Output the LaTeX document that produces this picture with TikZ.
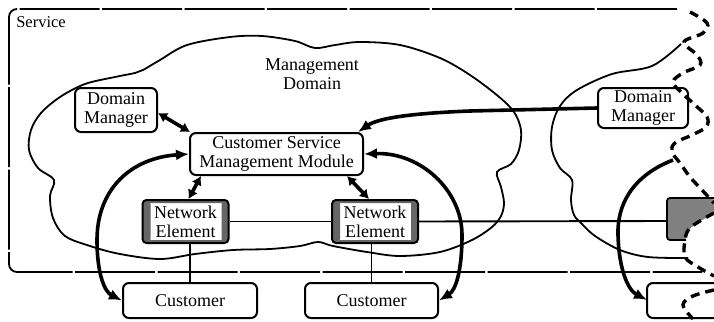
\documentclass[tikz,border=0pt]{standalone}
\usepackage{fontspec}
\setmainfont{Liberation Serif}
\usetikzlibrary{arrows.meta}
\begin{document}
\begin{tikzpicture}[x=1pt,y=-1pt,
  >={Latex[length=13pt,width=11pt]},
  box/.style={draw, line width=2pt, rounded corners=6pt, fill=white,
    align=center, inner sep=0pt, font=\fontsize{18}{19}\selectfont},
  nebox/.style={box, rounded corners=4pt, minimum width=86pt, minimum height=43pt,
    path picture={
      \fill[black!60] (path picture bounding box.south west) rectangle ([xshift=8pt]path picture bounding box.north west);
      \fill[black!60] (path picture bounding box.south east) rectangle ([xshift=-7pt]path picture bounding box.north east);
      \fill[black!60] (path picture bounding box.north west) rectangle ([yshift=-3pt]path picture bounding box.north east);
      \fill[black!60] (path picture bounding box.south west) rectangle ([yshift=3pt]path picture bounding box.south east);}},
  cloudline/.style={line width=1.8pt},
  link/.style={line width=1.9pt},
  heavy/.style={line width=3.6pt},
  shortboth/.style={line width=3.6pt, {Latex[length=9pt,width=11pt]}-{Latex[length=9pt,width=11pt]}},
  cutline/.style={line width=3.4pt, dash pattern=on 9pt off 6pt},
  label/.style={align=center, inner sep=0pt, font=\fontsize{18}{19}\selectfont}
]
\useasboundingbox (0,0) rectangle (714,321);

% service boundary
\draw[line width=1.8pt, rounded corners=8pt, dash pattern=on 80pt off 2.5pt]
  (677,9) -- (9,9) -- (9,272) -- (702,272);
\node[inner sep=0pt, font=\fontsize{16.5}{18}\selectfont] (service) at (41,22) {Service};

% management domain cloud
\draw[cloudline] plot[smooth cycle, tension=0.55] coordinates {
  (143,70) (160,60) (187,45) (230,37) (262,36) (295,41) (315,48) (335,45)
  (360,42) (400,45) (440,58) (470,75) (498,96) (514,112) (521,130) (519,150)
  (511,164) (497,172) (501,187) (504,203) (501,216) (492,227) (472,240)
  (440,252) (400,256) (367,252) (333,246) (318,242) (300,246) (270,249)
  (233,250) (195,254) (160,259) (120,254) (90,246) (65,236) (53,218)
  (50,196) (54,180) (38,168) (29,150) (31,130) (41,113) (60,97) (85,84)
  (115,77) (135,73)};
\node[label] (mdom) at (312,74) {Management\\Domain};

% neighbouring domain cloud
\draw[cloudline] plot[smooth, tension=0.55] coordinates {
  (681,44) (652,66) (612,74) (577,90) (560,106) (552,127) (552,150) (560,168)
  (572,180) (571,200) (574,215) (582,224) (595,236) (620,250) (648,257) (688,258)};

% partly visible boxes at the cut
\fill[black!50, rounded corners=3pt]
  (714,198) -- (667,198) -- (667,240) -- (686,240) -- (689,229) -- (700,221) -- (714,214) -- cycle;
\draw[line width=1.8pt, rounded corners=3pt] (714,198) -- (667,198) -- (667,240) -- (686,240);
\draw[line width=2pt, rounded corners=6pt] (714,283) -- (647,283) -- (647,318) -- (714,318);
\coordinate (ne3) at (667,221);
\coordinate (cu3) at (647,300);
\coordinate (cutstart) at (673,160);

% nodes
\node[box, minimum width=82pt, minimum height=44pt] (dm1) at (116,110) {Domain\\Manager};
\node[box, minimum width=173pt, minimum height=42pt] (csmm) at (276.5,154) {Customer Service\\Management Module};
\node[nebox] (ne1) at (185.5,221.5) {Network\\Element};
\node[nebox] (ne2) at (375,221.5) {Network\\Element};
\node[box, minimum width=134pt, minimum height=35pt] (cu1) at (190,300.5) {Customer};
\node[box, minimum width=133pt, minimum height=35pt] (cu2) at (371.5,300.5) {Customer};
\node[box, minimum width=90pt, minimum height=40pt] (dm2) at (643,108) {Domain\\Manager};

% thin links
\draw[link] (ne1.east) -- (ne2.west);
\draw[link] (ne2.east) -- (ne3);
\draw[link] (ne1.south -| cu1.north) -- (cu1.north);
\draw[link] (ne2.south -| cu2.north) -- (cu2.north);

% management associations
\draw[shortboth] ([yshift=-3pt]dm1.east) -- ([xshift=1pt]csmm.north west);
\draw[shortboth] ([xshift=12pt]csmm.south west) -- ([xshift=3pt]ne1.north);
\draw[shortboth] ([xshift=-17pt]csmm.south east) -- ([xshift=-6pt]ne2.north);
\draw[heavy,->] (dm2.west) -- (470,111) .. controls (420,113) and (380,117) .. ([xshift=-6pt]csmm.north east);
\draw[heavy,<->] (csmm.west) .. controls (130,158) and (97,190) .. (97,240)
  .. controls (97,275) and (105,292) .. (cu1.west);
\draw[heavy,<->] (csmm.east) .. controls (420,152) and (462,190) .. (462,235)
  .. controls (462,270) and (456,290) .. (cu2.east);
\draw[heavy,->] (cutstart) .. controls (632,176) and (617,205) .. (618,235)
  .. controls (619,270) and (628,290) .. (cu3);

% cut line
\draw[cutline] plot[smooth, tension=0.6] coordinates {
  (690,12) (707,23) (703,33) (684,42) (697,55) (700,65) (683,73) (673,82)
  (682,93) (695,105) (707,117) (706,127) (692,135) (675,143) (672,152)
  (680,163) (690,177) (702,190) (714,203)};
\draw[cutline] plot[smooth, tension=0.6] coordinates {
  (714,213) (700,221) (689,229) (685,240) (685,257) (698,267) (714,276)};
\draw[cutline] plot[smooth, tension=0.6] coordinates {
  (714,290) (693,296) (683,305) (693,319)};
\end{tikzpicture}
\end{document}
